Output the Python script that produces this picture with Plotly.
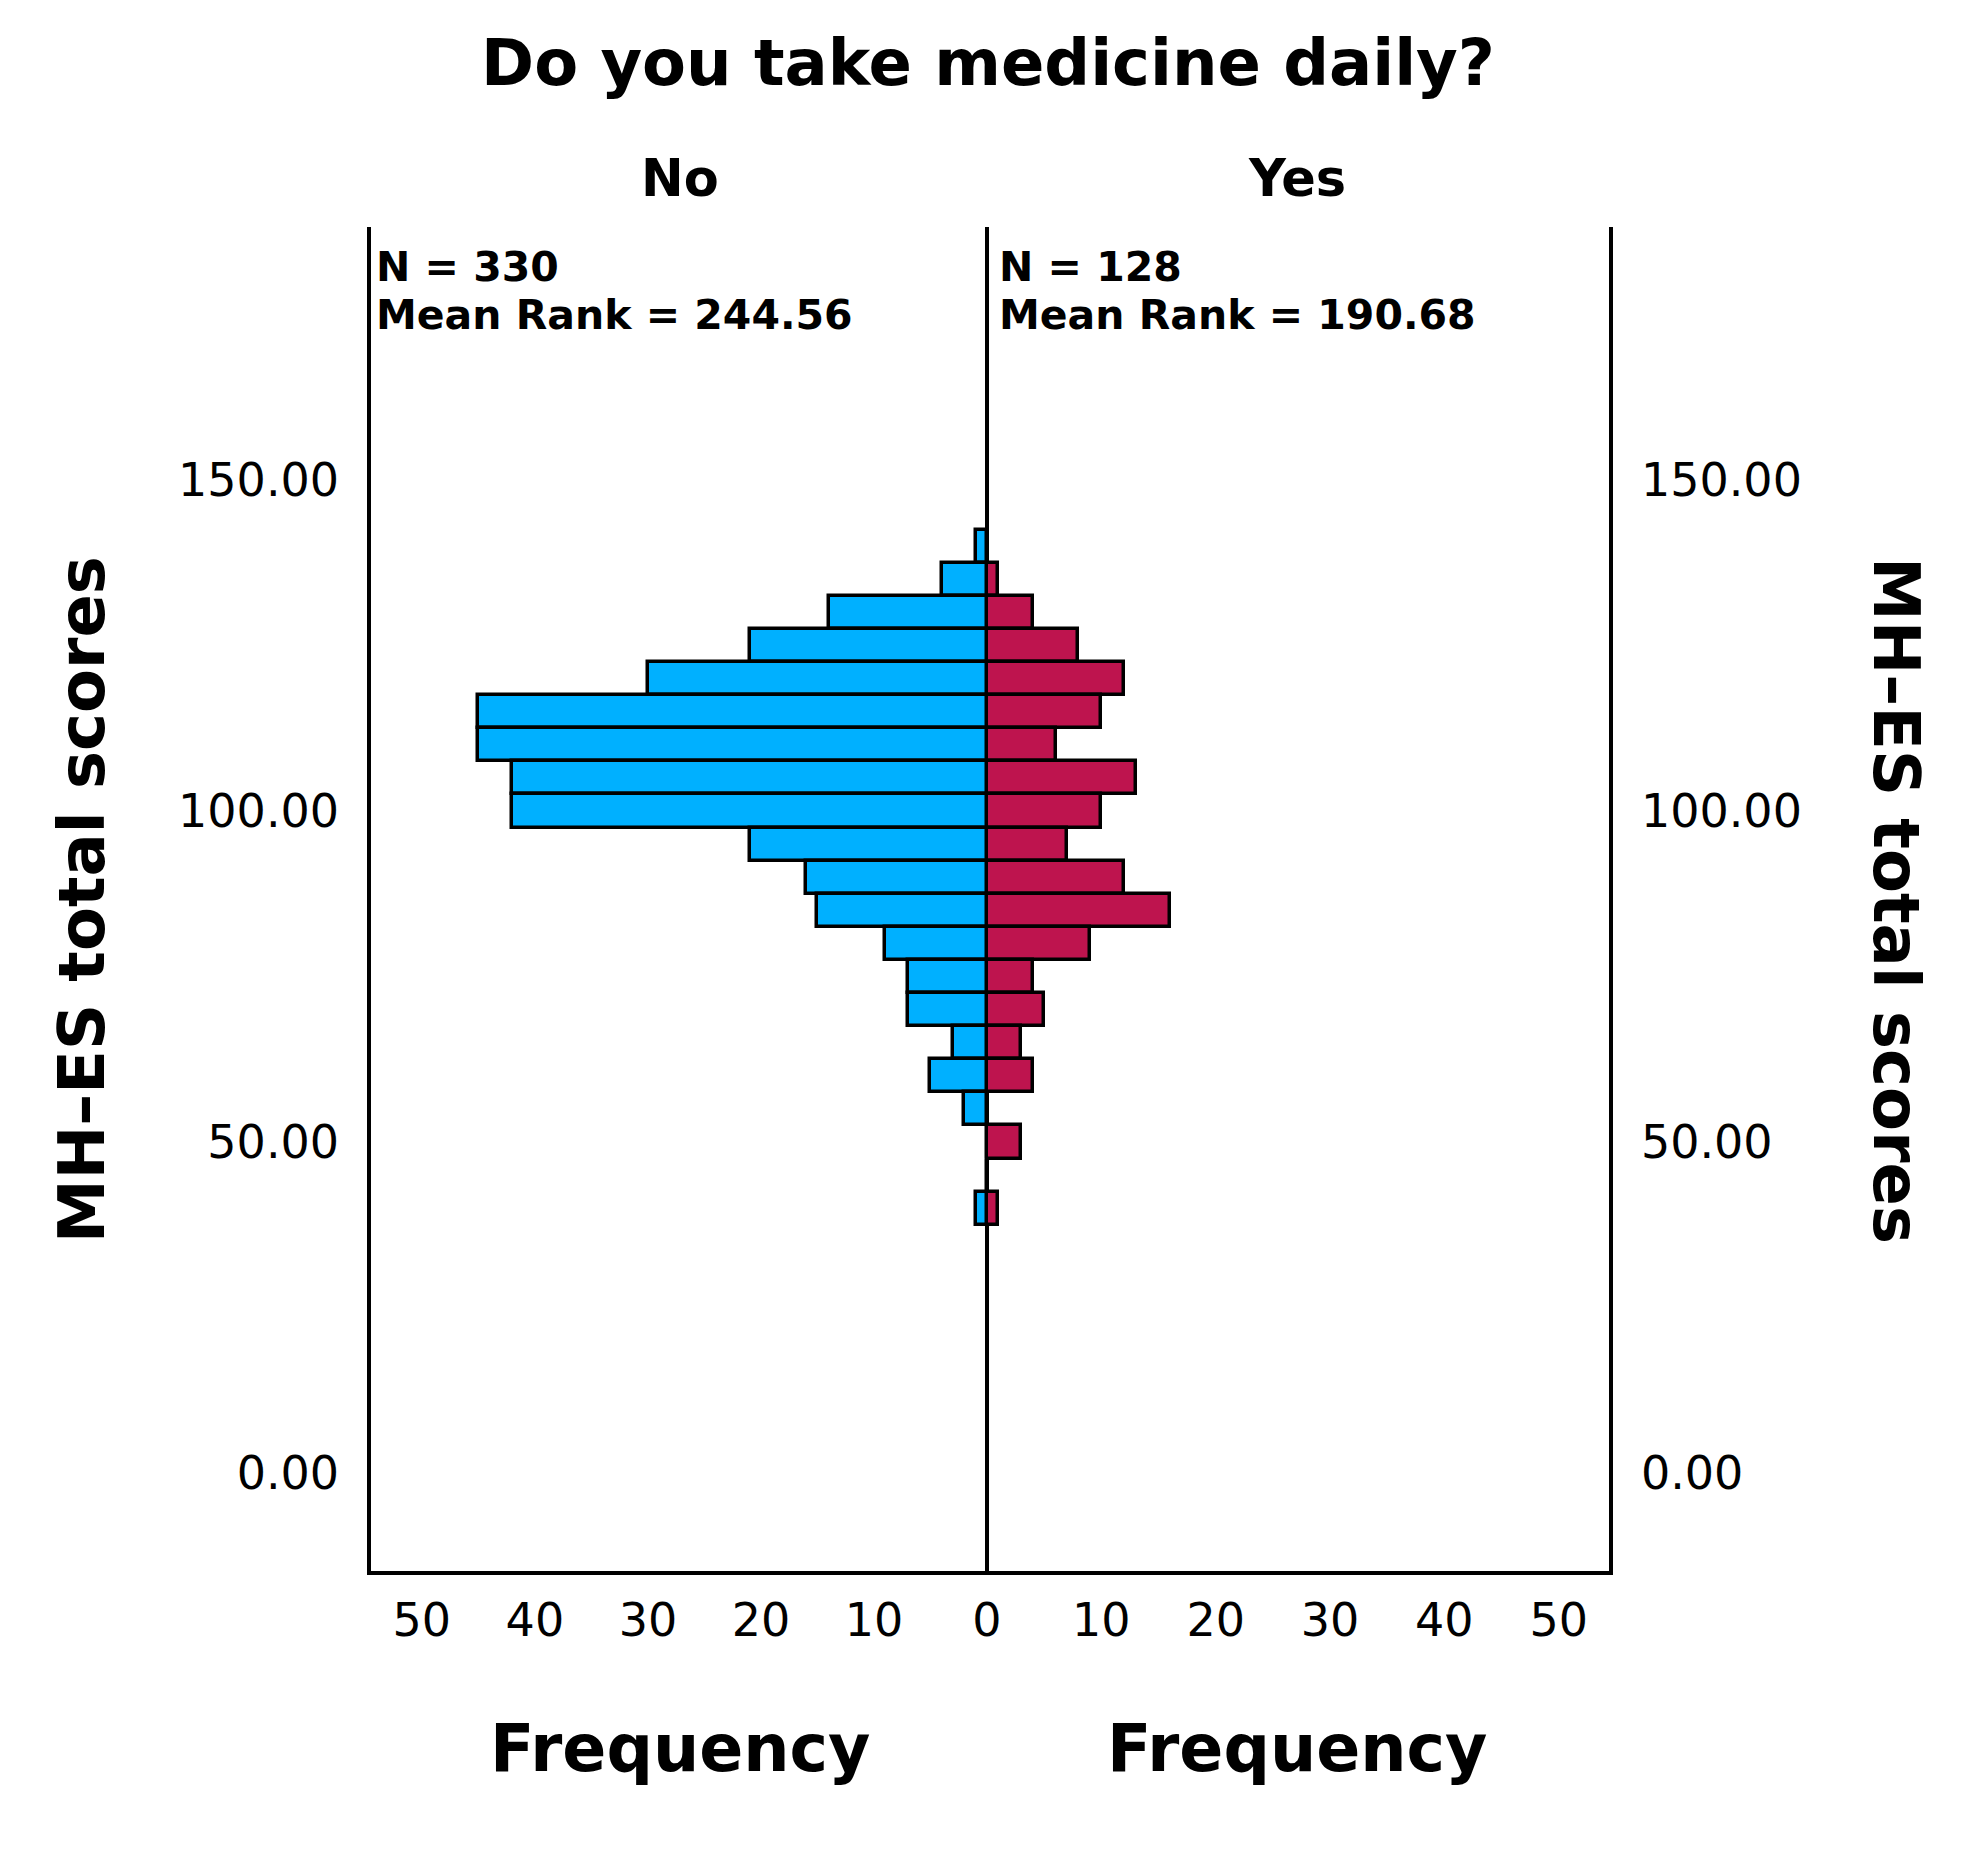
import plotly.graph_objects as go

# Data (bin centres of MH-ES total scores, width 5)
score_bins = [140, 135, 130, 125, 120, 115, 110, 105, 100, 95, 90, 85, 80, 75, 70, 65, 60, 55, 50, 45, 40]
freq_no = [1, 4, 14, 21, 30, 45, 45, 42, 42, 21, 16, 15, 9, 7, 7, 3, 5, 2, 0, 0, 1]
freq_yes = [0, 1, 4, 8, 12, 10, 6, 13, 10, 7, 12, 16, 9, 4, 5, 3, 4, 0, 3, 0, 1]

group_labels = ["No", "Yes"]
group_n = [330, 128]
group_mean_rank = ["244.56", "190.68"]

y_ticks = [0, 50, 100, 150]
y_tick_text = ["0.00", "50.00", "100.00", "150.00"]
x_ticks_left = [0, 10, 20, 30, 40, 50]
x_ticks_right = [10, 20, 30, 40, 50]

W, H = 1974, 1850
FONT = "DejaVu Sans"
BLUE = "#00B0FF"
RED = "#BE144E"

def px(x):
    return x / W

def py(y):
    return 1 - y / H

left_dom = [px(371), px(987)]
right_dom = [px(987), px(1609)]
y_dom = [py(1571), py(227)]
y_range = [-14.8, 188.2]

fig = go.Figure()
fig.add_trace(go.Bar(
    y=score_bins, x=freq_no, orientation="h", xaxis="x", yaxis="y",
    marker=dict(color=BLUE, line=dict(color="black", width=3.5)),
    showlegend=False,
))
fig.add_trace(go.Bar(
    y=score_bins, x=freq_yes, orientation="h", xaxis="x2", yaxis="y2",
    marker=dict(color=RED, line=dict(color="black", width=3.5)),
    showlegend=False,
))

tickfont = dict(family=FONT, size=46, color="black")
line_w = 3.5

fig.update_layout(
    width=W, height=H, autosize=False,
    margin=dict(l=0, r=0, t=0, b=0),
    paper_bgcolor="white", plot_bgcolor="white",
    bargap=0,
    xaxis=dict(
        domain=left_dom, anchor="y", range=[54.5, 0],
        tickvals=x_ticks_left, ticktext=[str(v) for v in x_ticks_left],
        tickfont=tickfont, ticks="outside", ticklen=6, tickcolor="rgba(0,0,0,0)",
        showgrid=False, showline=True, linecolor="black", linewidth=line_w,
        zeroline=True, zerolinecolor="black", zerolinewidth=line_w,
        automargin=False, fixedrange=True,
    ),
    xaxis2=dict(
        domain=right_dom, anchor="y2", range=[0, 54.4],
        tickvals=x_ticks_right, ticktext=[str(v) for v in x_ticks_right],
        tickfont=tickfont, ticks="outside", ticklen=6, tickcolor="rgba(0,0,0,0)",
        showgrid=False, showline=True, linecolor="black", linewidth=line_w,
        zeroline=False, automargin=False, fixedrange=True,
    ),
    yaxis=dict(
        domain=y_dom, anchor="x", range=y_range,
        tickvals=y_ticks, ticktext=y_tick_text,
        tickfont=tickfont, ticks="outside", ticklen=19, tickcolor="rgba(0,0,0,0)",
        showgrid=False, showline=True, linecolor="black", linewidth=line_w,
        zeroline=False, automargin=False, fixedrange=True,
    ),
    yaxis2=dict(
        domain=y_dom, anchor="x2", range=y_range, side="right",
        tickvals=y_ticks, ticktext=y_tick_text,
        tickfont=tickfont, ticks="outside", ticklen=19, tickcolor="rgba(0,0,0,0)",
        showgrid=False, showline=True, linecolor="black", linewidth=line_w,
        zeroline=False, automargin=False, fixedrange=True,
    ),
)

ann = []
bold = lambda s: dict(family=FONT, size=s, color="black")

ann.append(dict(text="<b>Do you take medicine daily?</b>", x=px(988), y=py(63),
                xref="paper", yref="paper", xanchor="center", yanchor="middle",
                showarrow=False, font=bold(64)))

centers = [680, 1297]
text_x = [374, 997]
for i, lab in enumerate(group_labels):
    ann.append(dict(text=f"<b>{lab}</b>", x=px(centers[i]), y=py(178),
                    xref="paper", yref="paper", xanchor="center", yanchor="middle",
                    showarrow=False, font=bold(51)))
    ann.append(dict(text="<b>Frequency</b>", x=px(centers[i]), y=py(1748),
                    xref="paper", yref="paper", xanchor="center", yanchor="middle",
                    showarrow=False, font=bold(65)))
    ann.append(dict(text=f"<b>N = {group_n[i]}</b>", x=px(text_x[i]), y=py(267),
                    xref="paper", yref="paper", xanchor="left", yanchor="middle",
                    showarrow=False, font=bold(41)))
    ann.append(dict(text=f"<b>Mean Rank = {group_mean_rank[i]}</b>", x=px(text_x[i]), y=py(315),
                    xref="paper", yref="paper", xanchor="left", yanchor="middle",
                    showarrow=False, font=bold(41)))

ann.append(dict(text="<b>MH–ES total scores</b>", x=px(82), y=py(900),
                xref="paper", yref="paper", xanchor="center", yanchor="middle",
                textangle=-90, showarrow=False, font=bold(64)))
ann.append(dict(text="<b>MH–ES total scores</b>", x=px(1896), y=py(900),
                xref="paper", yref="paper", xanchor="center", yanchor="middle",
                textangle=90, showarrow=False, font=bold(64)))

fig.update_layout(annotations=ann)

fig.write_html("out.html", config={"displayModeBar": False},
               post_script="document.body.style.margin='0px';")
